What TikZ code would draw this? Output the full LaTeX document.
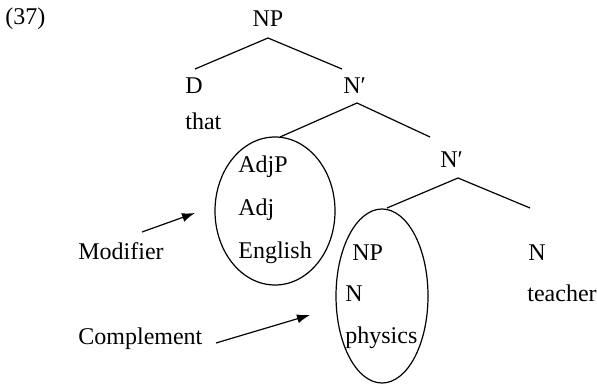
\documentclass[tikz,border=0pt]{standalone}
\usepackage{fontspec}
\setmainfont{Liberation Serif}
\usetikzlibrary{arrows.meta}

\begin{document}
\begin{tikzpicture}[x=0.5pt,y=-0.5pt,>={Latex[length=6.5pt,width=4.5pt]},line join=round,
  lbl/.style={anchor=base west,inner sep=0pt,font=\fontsize{12}{14}\selectfont},
  branch/.style={line width=0.6pt}]
  \useasboundingbox (0,0) rectangle (597,384);
  \coordinate (T0) at (268,38);
  \coordinate (T0L) at (195,69);
  \coordinate (T0R) at (342,69);
  \coordinate (T1) at (357,103);
  \coordinate (T1L) at (280,137);
  \coordinate (T1R) at (430,137);
  \coordinate (T2) at (458,178);
  \coordinate (T2L) at (387,208);
  \coordinate (T2R) at (530,208);
  \coordinate (AdjC) at (275,211);
  \coordinate (NPC) at (382,296);
  \coordinate (ModS) at (142,232);
  \coordinate (ModE) at (195,213);
  \coordinate (ComS) at (216,343);
  \coordinate (ComE) at (310,315);
  \draw[branch] (T0L) -- (T0) -- (T0R);
  \draw[branch] (T1L) -- (T1) -- (T1R);
  \draw[branch] (T2L) -- (T2) -- (T2R);
  \draw[branch] (AdjC) ellipse [x radius=60,y radius=74];
  \draw[branch] (NPC) ellipse [x radius=46,y radius=87];
  \draw[branch,->] (ModS) -- (ModE);
  \draw[branch,->] (ComS) -- (ComE);
  \node[lbl] (ex) at (5,25) {(37)};
  \node[lbl,anchor=base] (NPtop) at (268,27) {NP};
  \node[lbl] (D) at (185,94) {D};
  \node[lbl] (that) at (185,130) {that};
  \node[lbl] (Nb1) at (343,94) {N′};
  \node[lbl] (AdjP) at (238,173) {AdjP};
  \node[lbl] (Adj) at (238,215) {Adj};
  \node[lbl] (English) at (238,258) {English};
  \node[lbl] (Nb2) at (440,168) {N′};
  \node[lbl] (NP) at (352,260) {NP};
  \node[lbl] (Nphys) at (345,301) {N};
  \node[lbl] (physics) at (345,343) {physics};
  \node[lbl] (Nteach) at (528,260) {N};
  \node[lbl] (teacher) at (527,301) {teacher};
  \node[lbl] (mod) at (78,259) {Modifier};
  \node[lbl] (comp) at (78,344) {Complement};
\end{tikzpicture}
\end{document}
